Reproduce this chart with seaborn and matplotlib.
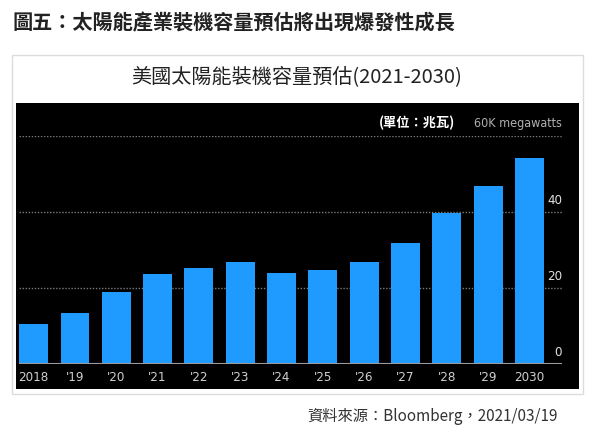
import matplotlib
matplotlib.use("Agg")
import matplotlib.pyplot as plt
from matplotlib.patches import Rectangle
import seaborn as sns
import pandas as pd

years = ["2018", "'19", "'20", "'21", "'22", "'23", "'24", "'25", "'26", "'27", "'28", "'29", "2030"]
capacity = [10.6, 13.4, 19.1, 23.7, 25.3, 26.8, 24.1, 24.7, 26.8, 31.8, 39.7, 46.9, 54.3]
y_ticks = [0, 20, 40]
grid_levels = [20, 40, 60]

sns.set_theme(style="dark")
plt.rcParams['font.family'] = ['Noto Sans CJK TC', 'DejaVu Sans']

W, H = 594, 436
fig = plt.figure(figsize=(W / 100, H / 100), dpi=100)
fig.patch.set_facecolor('white')

# white card + black chart panel
fig.add_artist(Rectangle((12 / W, 1 - 394 / H), 571 / W, 339 / H, transform=fig.transFigure,
                         facecolor='white', edgecolor='#dcdcdc', lw=1, zorder=-2))
fig.add_artist(Rectangle((16 / W, 1 - 389 / H), 562.5 / W, 286.3 / H, transform=fig.transFigure,
                         facecolor='black', edgecolor='none', zorder=-1))

ax = fig.add_axes([19 / W, 1 - 364.3 / H, 543 / W, 228 / H])
ax.set_facecolor('none')

df = pd.DataFrame({'year': years, 'capacity': capacity})
sns.barplot(data=df, x='year', y='capacity', color='#1f9bff', saturation=1,
            width=0.7, ax=ax, zorder=2, edgecolor='none', linewidth=0)

for g in grid_levels:
    ax.axhline(g, color='#7a7a7a', lw=1, ls=(0, (1, 1.2)), zorder=1)
ax.axhline(0, color='#9a9a9a', lw=1.5, zorder=3)

ax.set_xlim(-0.356, 12.79)
ax.set_ylim(0, 60)
for s in ax.spines.values():
    s.set_visible(False)
ax.grid(False)
ax.set_xlabel('')
ax.set_ylabel('')
ax.set_yticks([])
ax.set_xticks(range(len(years)))
ax.set_xticklabels(years, color='#d0d0d0', fontsize=9.5, family='DejaVu Sans', fontstretch='condensed')
ax.tick_params(axis='x', length=0, pad=5)

for v in y_ticks:
    ax.annotate(str(v), xy=(1, v), xycoords=('axes fraction', 'data'), xytext=(0, 8.5),
                textcoords='offset points', ha='right', va='center', color='#e0e0e0',
                fontsize=9.5, family='DejaVu Sans', fontstretch='condensed')
ax.annotate('60K megawatts', xy=(1, 60), xycoords=('axes fraction', 'data'), xytext=(0, 9.4),
            textcoords='offset points', ha='right', va='center', color='#b0b0b0',
            fontsize=9, family='DejaVu Sans', fontstretch='condensed')

fig.text(455 / W, 1 - 123.3 / H, '(單位：兆瓦)', ha='right', va='center', color='white',
         fontsize=9.5, weight='bold')
fig.text(12 / W, 1 - 23 / H, '圖五：太陽能產業裝機容量預估將出現爆發性成長', ha='left', va='center',
         color='#222222', fontsize=14.5, weight='bold')
fig.text(0.5, 1 - 77 / H, '美國太陽能裝機容量預估(2021-2030)', ha='center', va='center',
         color='#222222', fontsize=14.5)
fig.text(558 / W, 1 - 416 / H, '資料來源：Bloomberg，2021/03/19', ha='right', va='center',
         color='#333333', fontsize=11)

fig.savefig('out.png', dpi=100)
